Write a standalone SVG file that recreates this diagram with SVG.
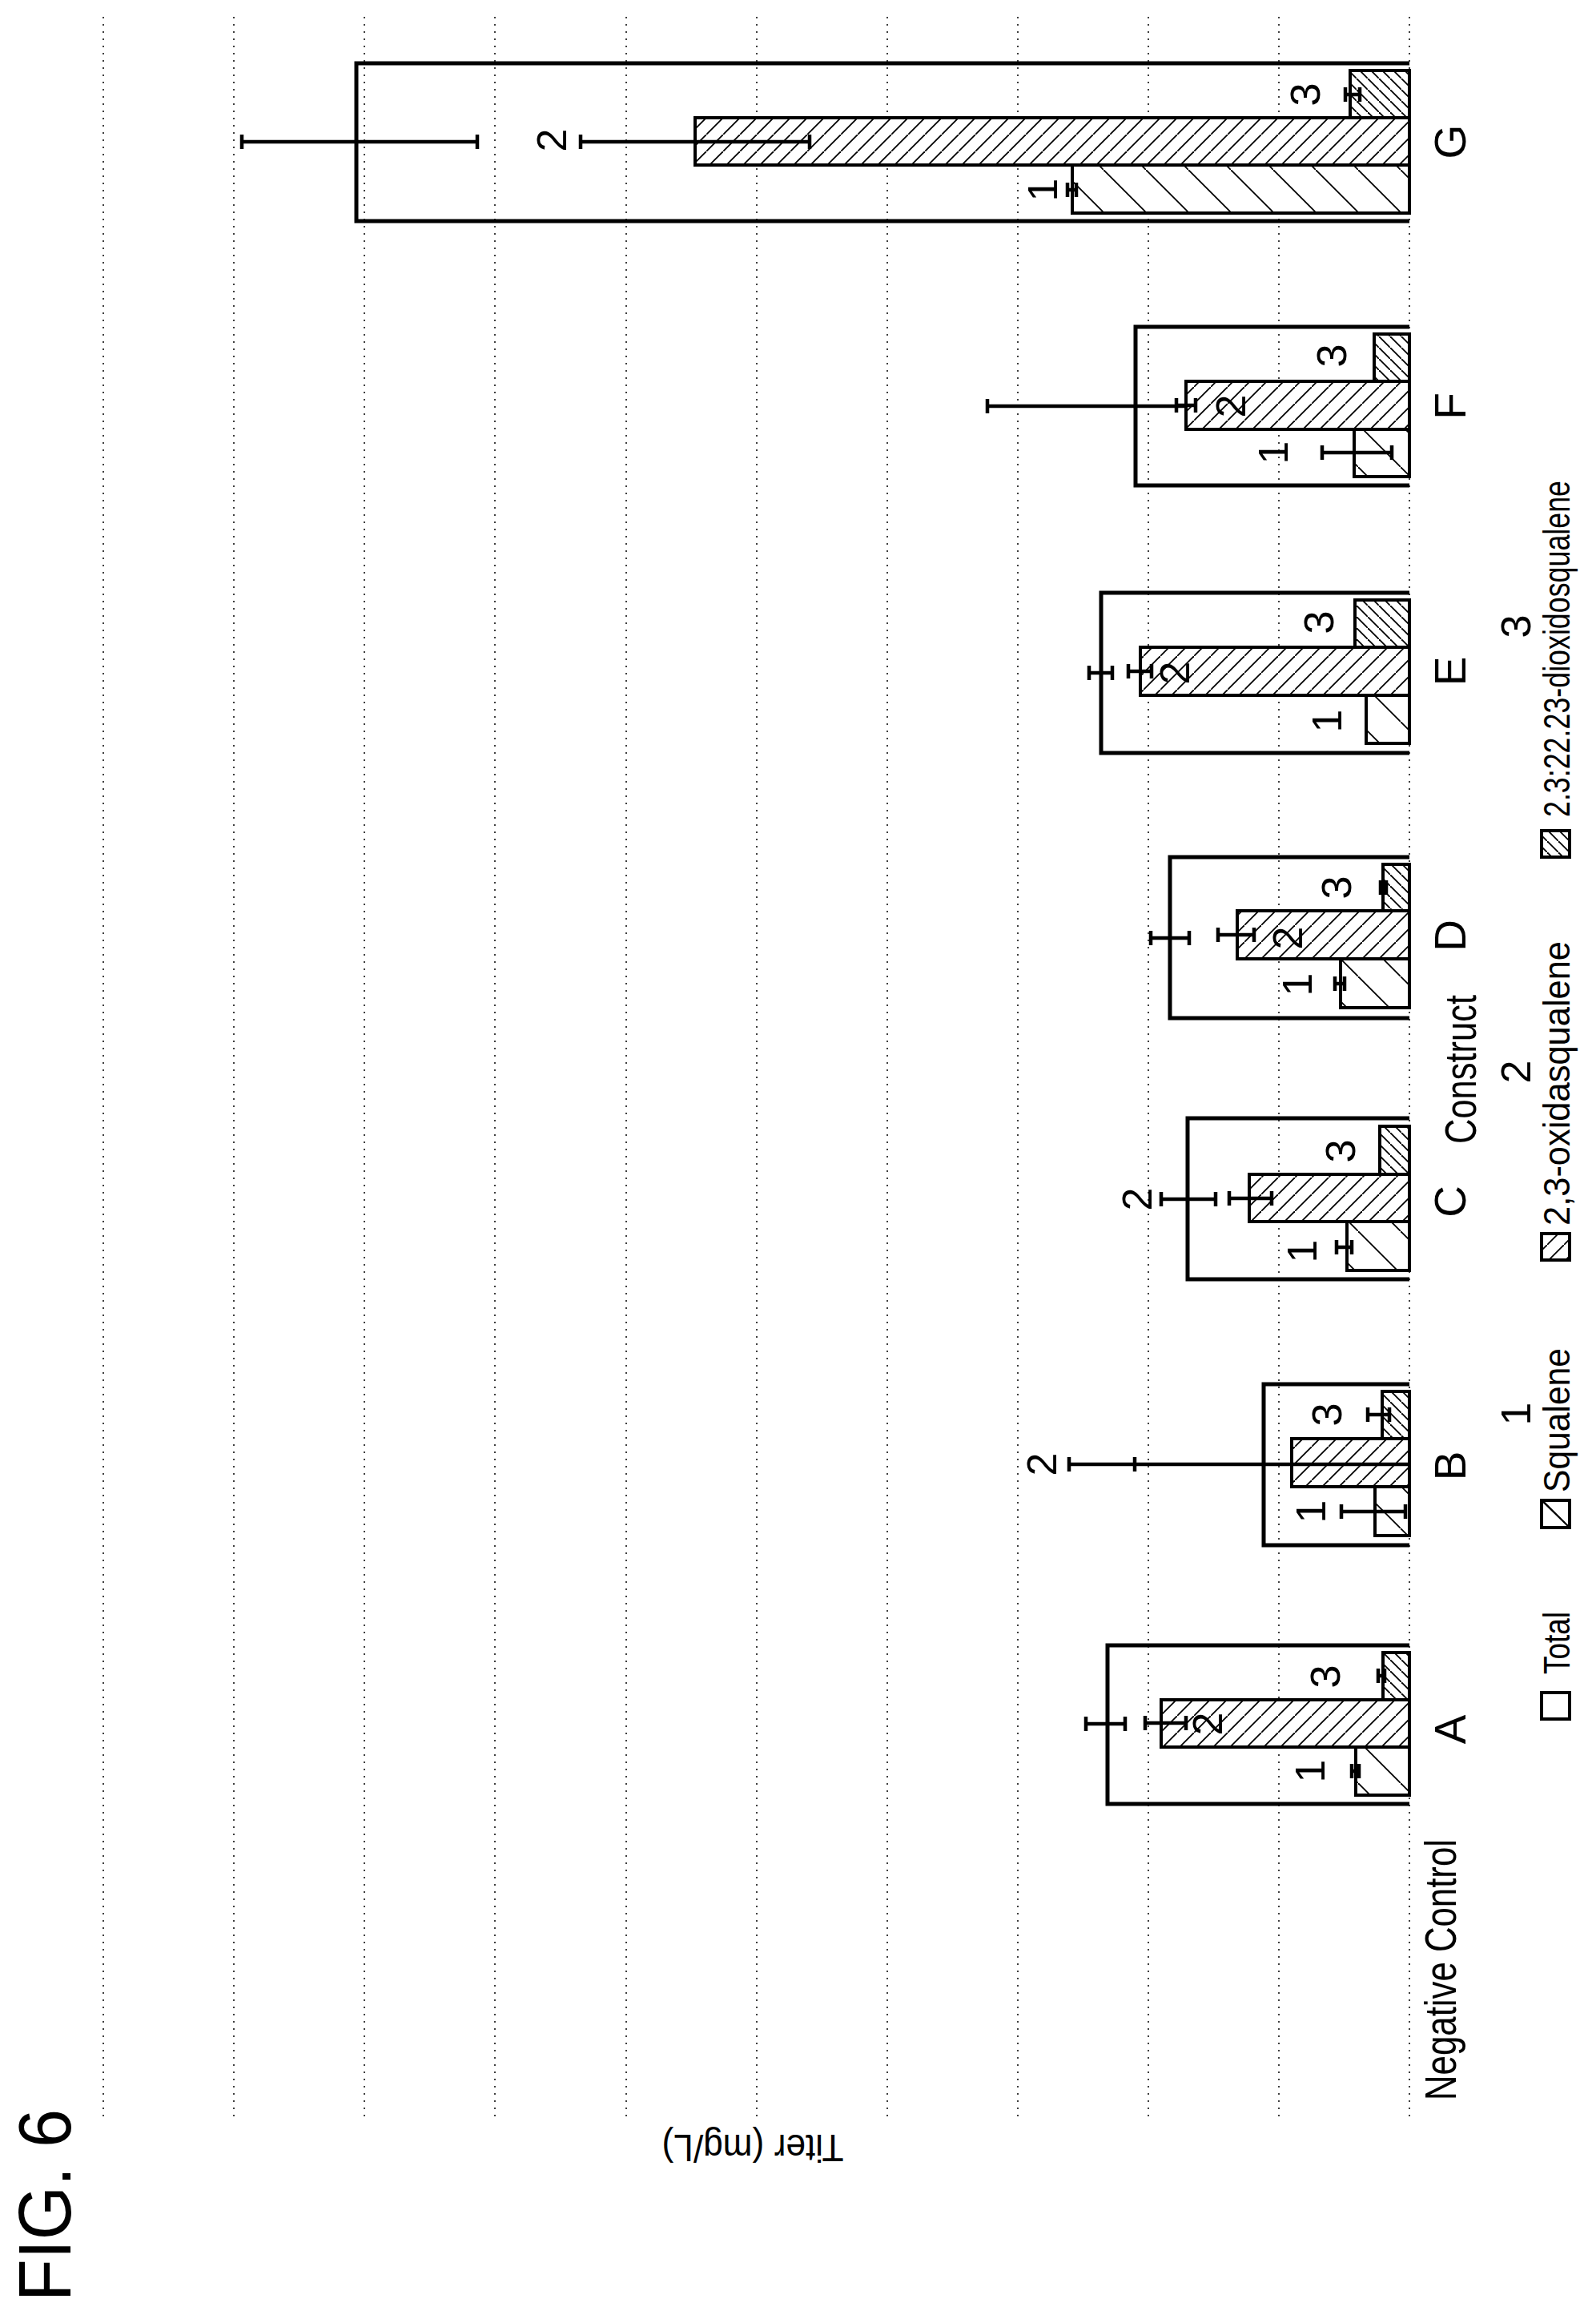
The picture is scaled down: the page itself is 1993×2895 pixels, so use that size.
<svg xmlns="http://www.w3.org/2000/svg" width="1993" height="2895" viewBox="0 0 1993 2895">
<style>
.grid{stroke:#000;stroke-width:1.5;stroke-dasharray:2,7}
.box{fill:none;stroke:#000;stroke-width:5}
.bar{stroke:#000;stroke-width:4}
.b1{fill:url(#h1)}.b2{fill:url(#h2)}.b3{fill:url(#h3)}
.err{stroke:#000;stroke-width:4.5;fill:none}
text{font-family:"Liberation Sans",Arial,sans-serif;fill:#000}
.num{font-size:52px;text-anchor:middle}
.cat{font-size:55px;text-anchor:middle}
.leg{font-size:46px}
</style>
<defs>
<pattern id="h1" patternUnits="userSpaceOnUse" width="53" height="53"><rect width="53" height="53" fill="#fff"/><path d="M-2,-2 L55,55" stroke="#000" stroke-width="1.8"/></pattern>
<pattern id="h2" patternUnits="userSpaceOnUse" width="21" height="21"><rect width="21" height="21" fill="#fff"/><path d="M-2,23 L23,-2" stroke="#000" stroke-width="1.8"/></pattern>
<pattern id="h3" patternUnits="userSpaceOnUse" width="14" height="14"><rect width="14" height="14" fill="#fff"/><path d="M-2,-2 L16,16" stroke="#000" stroke-width="1.8"/></pattern>
</defs>
<rect width="1993" height="2895" fill="#fff"/>
<g id="grid">
<line class="grid" x1="129" y1="21" x2="129" y2="2648"/>
<line class="grid" x1="292" y1="21" x2="292" y2="2648"/>
<line class="grid" x1="455" y1="21" x2="455" y2="2648"/>
<line class="grid" x1="618" y1="21" x2="618" y2="2648"/>
<line class="grid" x1="782" y1="21" x2="782" y2="2648"/>
<line class="grid" x1="945" y1="21" x2="945" y2="2648"/>
<line class="grid" x1="1108" y1="21" x2="1108" y2="2648"/>
<line class="grid" x1="1271" y1="21" x2="1271" y2="2648"/>
<line class="grid" x1="1434" y1="21" x2="1434" y2="2648"/>
<line class="grid" x1="1597" y1="21" x2="1597" y2="2648"/>
<line class="grid" x1="1760" y1="21" x2="1760" y2="2648"/>
</g>
<g id="A">
<path class="box" d="M1760,2054 H1383 V2252 H1760"/>
<rect class="bar b3" x="1727" y="2063" width="33" height="59"/>
<rect class="bar b2" x="1450" y="2122" width="310" height="59"/>
<rect class="bar b1" x="1693" y="2181" width="67" height="60"/>
<path class="err" d="M1356,2152 H1405 M1356,2143 V2161 M1405,2143 V2161 M1430,2151 H1481 M1430,2142 V2160 M1481,2142 V2160 M1688,2211 H1697 M1688,2202 V2220 M1697,2202 V2220 M1721,2092 H1729 M1721,2083 V2101 M1729,2083 V2101"/>
<text class="num" transform="translate(1635,2211) rotate(-90)" y="19">1</text>
<text class="num" transform="translate(1507,2152) rotate(-90)" y="19">2</text>
<text class="num" transform="translate(1654,2093) rotate(-90)" y="19">3</text>
<text class="cat" transform="translate(1810,2159) rotate(-90)" y="20">A</text>
</g>
<g id="B">
<path class="box" d="M1760,1728 H1578 V1929 H1760"/>
<rect class="bar b3" x="1726" y="1737" width="34" height="59"/>
<rect class="bar b2" x="1613" y="1796" width="147" height="60"/>
<rect class="bar b1" x="1717" y="1856" width="43" height="61"/>
<path class="err" d="M1335,1828 H1758 M1335,1819 V1837 M1417,1819 V1837 M1708,1766 H1735 M1708,1757 V1775 M1735,1757 V1775 M1675,1887 H1755 M1675,1878 V1896 M1755,1878 V1896"/>
<text class="num" transform="translate(1636,1887) rotate(-90)" y="19">1</text>
<text class="num" transform="translate(1300,1828) rotate(-90)" y="19">2</text>
<text class="num" transform="translate(1656,1766) rotate(-90)" y="19">3</text>
<text class="cat" transform="translate(1810,1830) rotate(-90)" y="20">B</text>
</g>
<g id="C">
<path class="box" d="M1760,1396 H1483 V1597 H1760"/>
<rect class="bar b3" x="1723" y="1406" width="37" height="60"/>
<rect class="bar b2" x="1560" y="1466" width="200" height="59"/>
<rect class="bar b1" x="1682" y="1525" width="78" height="61"/>
<path class="err" d="M1450,1497 H1518 M1450,1488 V1506 M1518,1488 V1506 M1535,1496 H1588 M1535,1487 V1505 M1588,1487 V1505 M1669,1557 H1688 M1669,1548 V1566 M1688,1548 V1566"/>
<text class="num" transform="translate(1625,1562) rotate(-90)" y="19">1</text>
<text class="num" transform="translate(1419,1497) rotate(-90)" y="19">2</text>
<text class="num" transform="translate(1673,1437) rotate(-90)" y="19">3</text>
<text class="cat" transform="translate(1810,1500) rotate(-90)" y="20">C</text>
</g>
<g id="D">
<path class="box" d="M1760,1070 H1461 V1271 H1760"/>
<rect class="bar b3" x="1727" y="1079" width="33" height="58"/>
<rect class="bar b2" x="1545" y="1137" width="215" height="60"/>
<rect class="bar b1" x="1674" y="1197" width="86" height="61"/>
<path class="err" d="M1437,1171 H1485 M1437,1162 V1180 M1485,1162 V1180 M1521,1167 H1566 M1521,1158 V1176 M1566,1158 V1176 M1667,1228 H1679 M1667,1219 V1237 M1679,1219 V1237 M1724,1108 H1731 M1724,1099 V1117 M1731,1099 V1117"/>
<text class="num" transform="translate(1619,1229) rotate(-90)" y="19">1</text>
<text class="num" transform="translate(1607,1171) rotate(-90)" y="19">2</text>
<text class="num" transform="translate(1668,1108) rotate(-90)" y="19">3</text>
<text class="cat" transform="translate(1810,1168) rotate(-90)" y="20">D</text>
</g>
<g id="E">
<path class="box" d="M1760,740 H1375 V940 H1760"/>
<rect class="bar b3" x="1692" y="749" width="68" height="59"/>
<rect class="bar b2" x="1424" y="808" width="336" height="60"/>
<rect class="bar b1" x="1706" y="868" width="54" height="60"/>
<path class="err" d="M1360,840 H1389 M1360,831 V849 M1389,831 V849 M1409,838 H1438 M1409,829 V847 M1438,829 V847"/>
<text class="num" transform="translate(1656,900) rotate(-90)" y="19">1</text>
<text class="num" transform="translate(1466,840) rotate(-90)" y="19">2</text>
<text class="num" transform="translate(1646,777) rotate(-90)" y="19">3</text>
<text class="cat" transform="translate(1810,838) rotate(-90)" y="20">E</text>
</g>
<g id="F">
<path class="box" d="M1760,408 H1418 V606 H1760"/>
<rect class="bar b3" x="1716" y="417" width="44" height="59"/>
<rect class="bar b2" x="1481" y="476" width="279" height="60"/>
<rect class="bar b1" x="1691" y="536" width="69" height="59"/>
<path class="err" d="M1233,507 H1481 M1233,498 V516 M1469,506 H1493 M1469,497 V515 M1493,497 V515 M1651,565 H1738 M1651,556 V574 M1738,556 V574"/>
<text class="num" transform="translate(1589,565) rotate(-90)" y="19">1</text>
<text class="num" transform="translate(1536,507) rotate(-90)" y="19">2</text>
<text class="num" transform="translate(1662,444) rotate(-90)" y="19">3</text>
<text class="cat" transform="translate(1810,507) rotate(-90)" y="20">F</text>
</g>
<g id="G">
<path class="box" d="M1760,79 H445 V276 H1760"/>
<rect class="bar b3" x="1686" y="88" width="74" height="59"/>
<rect class="bar b2" x="868" y="147" width="892" height="59"/>
<rect class="bar b1" x="1339" y="206" width="421" height="60"/>
<path class="err" d="M302,177 H596 M302,168 V186 M596,168 V186 M725,177 H1011 M725,168 V186 M1011,168 V186 M1333,237 H1344 M1333,228 V246 M1344,228 V246 M1680,118 H1698 M1680,109 V127 M1698,109 V127"/>
<text class="num" transform="translate(1301,237) rotate(-90)" y="19">1</text>
<text class="num" transform="translate(688,175) rotate(-90)" y="19">2</text>
<text class="num" transform="translate(1629,118) rotate(-90)" y="19">3</text>
<text class="cat" transform="translate(1810,177) rotate(-90)" y="20">G</text>
</g>
<g id="axis-labels">
<text class="cat" style="text-anchor:start" transform="translate(1818,2622) rotate(-90)" textLength="326" lengthAdjust="spacingAndGlyphs">Negative Control</text>
<text class="cat" style="text-anchor:start" transform="translate(1843,1428) rotate(-90)" textLength="186" lengthAdjust="spacingAndGlyphs">Construct</text>
<text style="font-size:48px;text-anchor:middle" transform="translate(940,2665) rotate(180)" textLength="227" lengthAdjust="spacingAndGlyphs">Titer (mg/L)</text>
<text style="font-size:92px" transform="translate(88,2873) rotate(-90)" textLength="240" lengthAdjust="spacingAndGlyphs">FIG. 6</text>
</g>
<g id="legend">
<rect class="bar" x="1925" y="2113" width="35" height="33" fill="#fff" stroke-width="4"/>
<text class="leg" transform="translate(1960,2090) rotate(-90)" textLength="78" lengthAdjust="spacingAndGlyphs">Total</text>
<rect class="bar b1" x="1925" y="1873" width="35" height="34"/>
<path d="M1925,1873 L1960,1907" stroke="#000" stroke-width="1.8"/>
<text class="leg" transform="translate(1960,1863) rotate(-90)" textLength="180" lengthAdjust="spacingAndGlyphs">Squalene</text>
<text class="num" transform="translate(1892,1765) rotate(-90)" y="19">1</text>
<rect class="bar b2" x="1925" y="1540" width="35" height="33"/>
<text class="leg" transform="translate(1960,1530) rotate(-90)" textLength="355" lengthAdjust="spacingAndGlyphs">2,3-oxidasqualene</text>
<text class="num" transform="translate(1892,1338) rotate(-90)" y="19">2</text>
<rect class="bar b3" x="1925" y="1037" width="35" height="33"/>
<text class="leg" transform="translate(1960,1020) rotate(-90)" textLength="420" lengthAdjust="spacingAndGlyphs">2.3:22.23-dioxidosqualene</text>
<text class="num" transform="translate(1892,782) rotate(-90)" y="19">3</text>
</g>
</svg>
